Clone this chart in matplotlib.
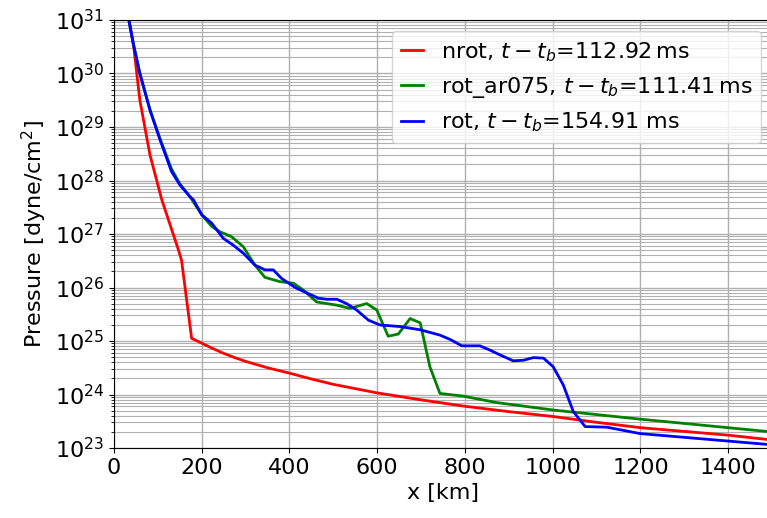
import numpy as np
import matplotlib
matplotlib.use('Agg')
import matplotlib.pyplot as plt

# x in km, pressure as log10(dyne/cm^2)
x_nrot = [34, 45, 59, 82, 109, 147, 154, 177, 200, 225, 250, 275, 300, 350, 400, 450, 500, 550, 600,
          700, 800, 900, 1000, 1100, 1200, 1300, 1400, 1500]
logp_nrot = [31.0, 30.5, 29.5, 28.48, 27.64, 26.70, 26.51, 25.05, 24.96, 24.86, 24.77, 24.69, 24.62,
             24.50, 24.40, 24.29, 24.19, 24.11, 24.03, 23.90, 23.78, 23.68, 23.59, 23.48, 23.38, 23.31,
             23.24, 23.15]

x_ar075 = [34, 44, 59, 82, 105, 131, 150, 173, 200, 223, 242, 268, 295, 321, 344, 378, 409, 432, 462,
           508, 538, 576, 599, 625, 648, 675, 698, 720, 743, 796, 872, 1001, 1199, 1500]
logp_ar075 = [31.0, 30.56, 30.0, 29.32, 28.78, 28.22, 27.94, 27.70, 27.36, 27.14, 27.04, 26.95, 26.76,
              26.42, 26.19, 26.11, 26.08, 25.95, 25.73, 25.67, 25.61, 25.70, 25.58, 25.09, 25.13, 25.42,
              25.34, 24.52, 24.02, 23.97, 23.85, 23.71, 23.54, 23.30]

x_rot = [34, 44, 59, 82, 105, 131, 150, 173, 181, 200, 223, 249, 272, 295, 321, 344, 363, 382, 413, 439,
         466, 485, 508, 530, 553, 580, 606, 652, 698, 743, 766, 793, 834, 857, 880, 910, 933, 956, 979,
         1001, 1024, 1047, 1074, 1123, 1199, 1500]
logp_rot = [31.0, 30.56, 30.0, 29.32, 28.76, 28.17, 27.92, 27.70, 27.64, 27.36, 27.20, 26.92, 26.79, 26.64,
            26.42, 26.33, 26.33, 26.17, 26.00, 25.90, 25.80, 25.78, 25.78, 25.70, 25.58, 25.39, 25.30,
            25.27, 25.21, 25.11, 25.03, 24.91, 24.91, 24.83, 24.74, 24.63, 24.64, 24.69, 24.68, 24.52,
            24.18, 23.68, 23.40, 23.39, 23.27, 23.06]

labels = [r'nrot, $t-t_b$=112.92$\,$ms',
          r'rot_ar075, $t-t_b$=111.41$\,$ms',
          r'rot, $t-t_b$=154.91 ms']

plt.rcParams['font.size'] = 16

fig = plt.figure(figsize=(7.67, 5.18), dpi=100)
ax = fig.add_axes([0.1486, 0.1351, 0.858, 0.8263])

ax.plot(x_nrot, 10.0 ** np.array(logp_nrot), color='red', lw=2, label=labels[0])
ax.plot(x_ar075, 10.0 ** np.array(logp_ar075), color='green', lw=2, label=labels[1])
ax.plot(x_rot, 10.0 ** np.array(logp_rot), color='blue', lw=2, label=labels[2])

ax.set_yscale('log')
ax.set_xlim(0, 1500)
ax.set_ylim(1e23, 1e31)
ax.set_xticks([0, 200, 400, 600, 800, 1000, 1200, 1400])
ax.grid(True, which='major', color='#b0b0b0', lw=1)
ax.grid(True, which='minor', axis='y', color='#b0b0b0', lw=0.8)
ax.set_xlabel('x [km]')
ax.set_ylabel(r'Pressure [dyne/cm$^2$]')
ax.legend(loc='upper right', fontsize=16, handlelength=1.0)

fig.savefig('out.png', dpi=100)
